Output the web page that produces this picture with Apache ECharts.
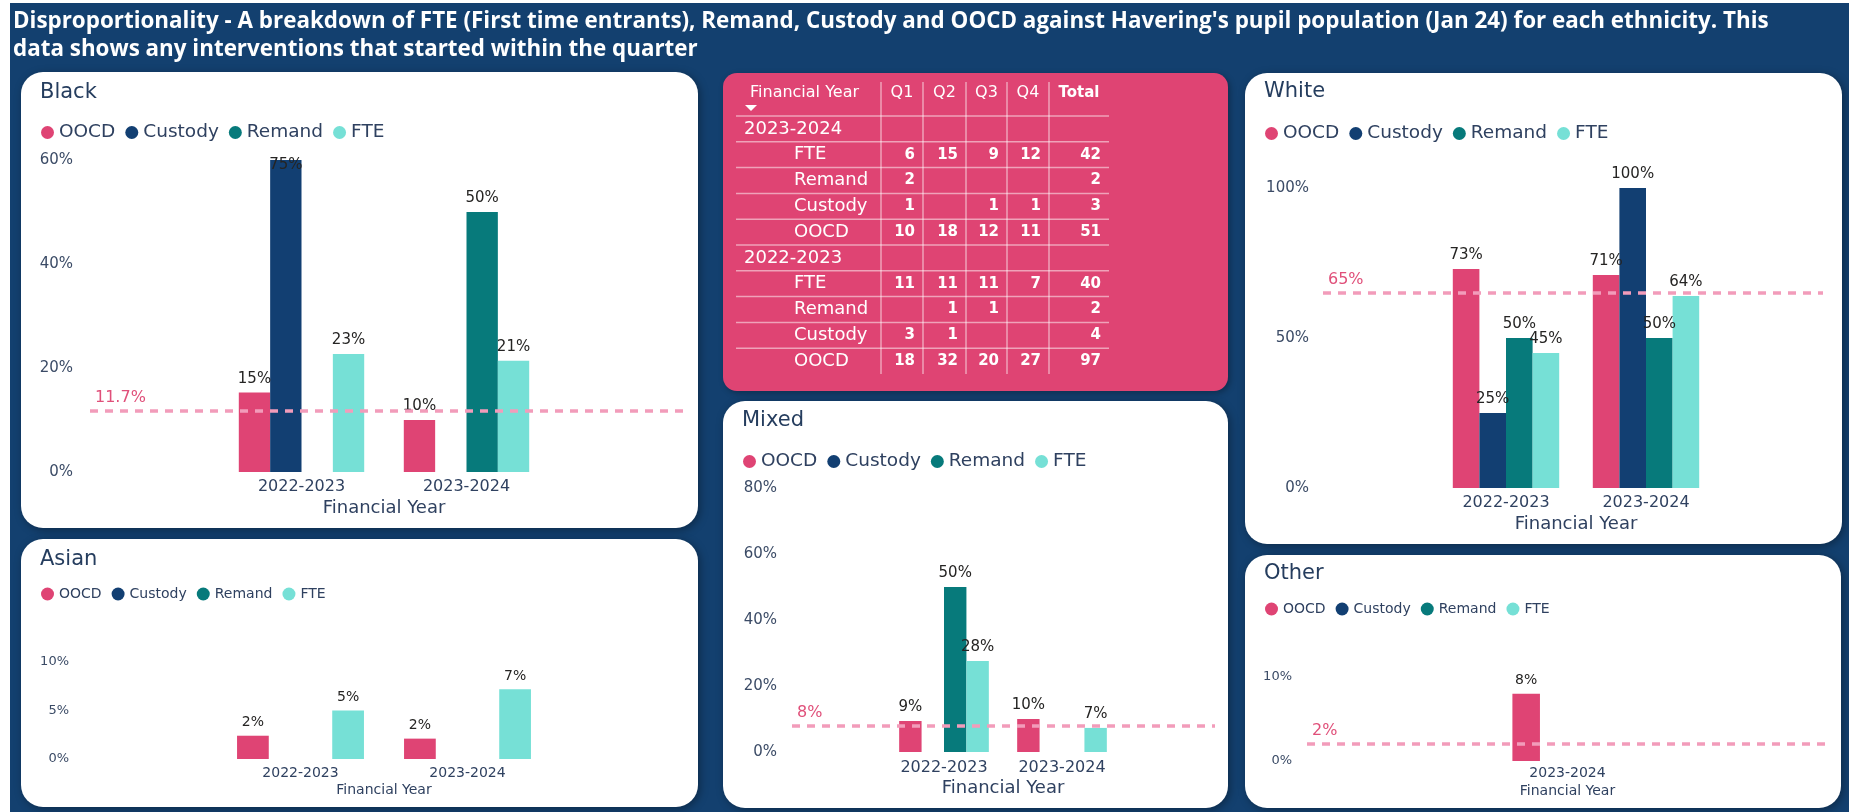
<!DOCTYPE html>
<html>
<head>
<meta charset="utf-8">
<title>Disproportionality</title>
<script src="https://cdn.jsdelivr.net/npm/echarts@6/dist/echarts.min.js"></script>
<style>
    html, body { margin: 0; padding: 0; background: #ffffff; }
    #main { width: 1849px; height: 812px; }
</style>
</head>
<body>
<div id="main"></div>
<script>
var mainTitle = "Disproportionality - A breakdown of FTE (First time entrants), Remand, Custody and OOCD against Havering's pupil population (Jan 24) for each ethnicity. This\ndata shows any interventions that started within the quarter";

var seriesNames = ['OOCD', 'Custody', 'Remand', 'FTE'];
var seriesColors = ['#DF4474', '#123F72', '#077A7B', '#76E0D6'];
var years = ['2022-2023', '2023-2024'];
var otherYears = ['2023-2024'];

// % per ethnicity, one value per financial year
var blackOOCD = [15.3, 10], blackCustody = [75, null], blackRemand = [null, 50], blackFTE = [22.7, 21.4];
var asianOOCD = [2.4, 2.1], asianCustody = [null, null], asianRemand = [null, null], asianFTE = [5, 7.2];
var mixedOOCD = [9.4, 10], mixedCustody = [null, null], mixedRemand = [50, null], mixedFTE = [27.6, 7.3];
var whiteOOCD = [73, 71], whiteCustody = [25, 100], whiteRemand = [50, 50], whiteFTE = [45, 64];
var otherOOCD = [8], otherCustody = [null], otherRemand = [null], otherFTE = [null];

// pupil population line (Jan 24)
var refValues = { Black: 11.7, Asian: 11.6, Mixed: 8, White: 65, Other: 2 };
var refLabels = { Black: '11.7%', Asian: '11%', Mixed: '8%', White: '65%', Other: '2%' };

// y axis ticks
var yMax = { Black: 60, Asian: 10, Mixed: 80, White: 100, Other: 10 };
var yStep = { Black: 20, Asian: 5, Mixed: 20, White: 50, Other: 10 };

// table
var tableHead = ['Financial Year', 'Q1', 'Q2', 'Q3', 'Q4', 'Total'];
var tableYears = ['2023-2024', '2022-2023'];
var tableRows = ['FTE', 'Remand', 'Custody', 'OOCD'];
var fy2324 = [[6, 15, 9, 12], [2, null, null, null], [1, null, 1, 1], [10, 18, 12, 11]];
var fy2223 = [[11, 11, 11, 7], [null, 1, 1, null], [3, 1, null, null], [18, 32, 20, 27]];
var total2324 = [42, 2, 3, 51];
var total2223 = [40, 2, 4, 97];

var navy = '#2f4160';

var charts = [
    {name: 'Black', cats: years, vals: [blackOOCD, blackCustody, blackRemand, blackFTE],
        box: [21, 72, 677, 456], titleY: 94, legY: 130, plot: [90, 160, 593, 312], bars: [219, 330],
        big: true, yMargin: 17, catMargin: 7, nameGap: 27},
    {name: 'Asian', cats: years, vals: [asianOOCD, asianCustody, asianRemand, asianFTE],
        box: [21, 539, 677, 268], titleY: 561, legY: 594, plot: [84, 662, 599, 97], bars: [217, 334],
        big: false, yMargin: 15, catMargin: 7, nameGap: 24},
    {name: 'Mixed', cats: years, vals: [mixedOOCD, mixedCustody, mixedRemand, mixedFTE],
        box: [723, 401, 505, 407], titleY: 422, legY: 459, plot: [792, 488, 423, 264], bars: [885, 236],
        big: true, yMargin: 15, catMargin: 8, nameGap: 27},
    {name: 'White', cats: years, vals: [whiteOOCD, whiteCustody, whiteRemand, whiteFTE],
        box: [1245, 73, 597, 471], titleY: 93, legY: 131, plot: [1323, 188, 500, 300], bars: [1436, 280],
        big: true, yMargin: 14, catMargin: 7, nameGap: 27},
    {name: 'Other', cats: otherYears, vals: [otherOOCD, otherCustody, otherRemand, otherFTE],
        box: [1245, 555, 596, 253], titleY: 575, legY: 609, plot: [1307, 677, 521, 84], bars: [1495, 145],
        big: false, yMargin: 15, catMargin: 5, nameGap: 23}
];

var option = {
    animation: false,
    textStyle: {fontFamily: 'DejaVu Sans'},
    title: [{
        text: mainTitle, left: 13, top: 8, padding: 0,
        textStyle: {color: '#ffffff', fontFamily: 'Open Sans', fontWeight: 'bold', fontSize: 22.4, lineHeight: 28}
    }],
    legend: [], grid: [], xAxis: [], yAxis: [], series: []
};
// dashboard background (page is white outside it)
var els = [{type: 'rect', z: -1, shape: {x: 10, y: 3, width: 1839, height: 809}, style: {fill: '#13406f'}}];

function pct(p) {
    return Math.round(p.value) + '%';
}

function addChart(c) {
    var fs = c.big ? {title: 21, leg: 18.5, y: 15, cat: 16, name: 18, val: 15}
                   : {title: 21, leg: 14, y: 13, cat: 14, name: 14, val: 14};
    var max = yMax[c.name];
    var gi = option.grid.length;

    els.push({type: 'rect', z: 0,
        shape: {x: c.box[0], y: c.box[1], width: c.box[2], height: c.box[3], r: 22},
        style: {fill: '#ffffff', shadowBlur: 8, shadowColor: 'rgba(0,0,0,0.35)', shadowOffsetX: 2, shadowOffsetY: 2}});

    option.title.push({text: c.name, left: c.box[0] + 19, top: c.titleY - 12, padding: 0,
        textStyle: {fontSize: fs.title, fontWeight: 'normal', color: '#253d5e'}});

    option.legend.push({data: seriesNames, left: c.box[0] + 20, top: c.legY - 7, padding: 0,
        icon: 'circle', itemWidth: 13, itemHeight: 13, itemGap: 10, selectedMode: false,
        textStyle: {fontSize: fs.leg, color: navy}});

    // wide grid: y labels and the population line
    option.grid.push({left: c.plot[0], top: c.plot[1], width: c.plot[2], height: c.plot[3]});
    option.xAxis.push({type: 'category', gridIndex: gi, data: [''], show: false});
    option.yAxis.push({type: 'value', gridIndex: gi, min: 0, max: max, interval: yStep[c.name],
        axisLine: {show: false}, axisTick: {show: false}, splitLine: {show: false},
        axisLabel: {formatter: '{value}%', margin: c.yMargin, fontSize: fs.y, color: '#3b4b66'}});
    option.series.push({type: 'bar', name: 'ref', xAxisIndex: gi, yAxisIndex: gi, data: [], silent: true,
        markLine: {
            symbol: 'none', silent: true,
            lineStyle: {color: '#F29CBA', width: 3.5, type: [8, 7]},
            label: {position: 'insideStartTop', distance: 5, fontSize: 16, color: '#E0507A',
                formatter: refLabels[c.name]},
            data: [{yAxis: refValues[c.name]}]
        }});

    // narrow grid: bars
    option.grid.push({left: c.bars[0], top: c.plot[1], width: c.bars[1], height: c.plot[3]});
    option.xAxis.push({type: 'category', gridIndex: gi + 1, data: c.cats,
        axisLine: {show: false}, axisTick: {show: false},
        axisLabel: {margin: c.catMargin, fontSize: fs.cat, color: navy},
        name: 'Financial Year', nameLocation: 'middle', nameGap: c.nameGap,
        nameTextStyle: {fontSize: fs.name, color: navy}});
    option.yAxis.push({type: 'value', gridIndex: gi + 1, min: 0, max: max, show: false});

    c.vals.forEach(function (vals, k) {
        option.series.push({
            type: 'bar', name: seriesNames[k], xAxisIndex: gi + 1, yAxisIndex: gi + 1,
            barGap: 0, barCategoryGap: '24%',
            itemStyle: {color: seriesColors[k]},
            label: {show: true, position: 'top', distance: 6, fontSize: fs.val, color: '#252423', formatter: pct},
            data: vals.map(function (v) {
                if (v != null && v > max) {
                    return {value: v, label: {position: 'insideTop', distance: -2}};
                }
                return v;
            })
        });
    });
}

charts.forEach(addChart);

// quarterly counts table
(function () {
    var colX = [736, 881, 923, 966, 1007, 1049, 1109];
    var bodyTop = 116, rowH = 25.8, headY = 93;
    var lineCol = 'rgba(255,255,255,0.5)';
    var font = '"DejaVu Sans"';

    els.push({type: 'rect', z: 0, shape: {x: 723, y: 73, width: 505, height: 318, r: 14},
        style: {fill: '#DF4473', shadowBlur: 6, shadowColor: 'rgba(0,0,0,0.3)', shadowOffsetX: 2, shadowOffsetY: 2}});

    tableHead.forEach(function (h, i) {
        var x = i === 0 ? 750 : (colX[i] + colX[i + 1]) / 2;
        els.push({type: 'text', z: 10, style: {text: h, x: x, y: headY, fill: '#fff',
            align: i === 0 ? 'left' : 'center', verticalAlign: 'middle',
            font: (i === 5 ? 'bold 15px ' : '16px ') + font}});
    });
    els.push({type: 'polygon', z: 10, shape: {points: [[745, 105], [757, 105], [751, 111]]}, style: {fill: '#fff'}});

    var rows = [];
    [[fy2324, total2324], [fy2223, total2223]].forEach(function (block, b) {
        rows.push({label: tableYears[b], year: true});
        tableRows.forEach(function (r, k) {
            rows.push({label: r, q: block[0][k], total: block[1][k]});
        });
    });

    for (var i = 0; i < rows.length; i++) {
        var ly = bodyTop + rowH * i;
        els.push({type: 'line', z: 10, shape: {x1: colX[0], y1: ly, x2: colX[6], y2: ly},
            style: {stroke: lineCol, lineWidth: 1.5}});
    }
    for (var j = 1; j <= 5; j++) {
        els.push({type: 'line', z: 10, shape: {x1: colX[j], y1: 82, x2: colX[j], y2: bodyTop + rowH * rows.length},
            style: {stroke: lineCol, lineWidth: 1.5}});
    }

    rows.forEach(function (r, i) {
        var cy = bodyTop + rowH * (i + 0.5);
        els.push({type: 'text', z: 10, style: {text: r.label, x: r.year ? 744 : 794, y: cy, fill: '#fff',
            align: 'left', verticalAlign: 'middle', font: '18px ' + font}});
        if (r.year) return;
        r.q.concat([r.total]).forEach(function (v, q) {
            if (v == null) return;
            els.push({type: 'text', z: 10, style: {text: String(v), x: colX[q + 2] - 8, y: cy, fill: '#fff',
                align: 'right', verticalAlign: 'middle', font: 'bold 15px ' + font}});
        });
    });
})();

option.graphic = {elements: els};

var myChart = echarts.init(document.getElementById('main'));
myChart.setOption(option);
</script>
</body>
</html>
